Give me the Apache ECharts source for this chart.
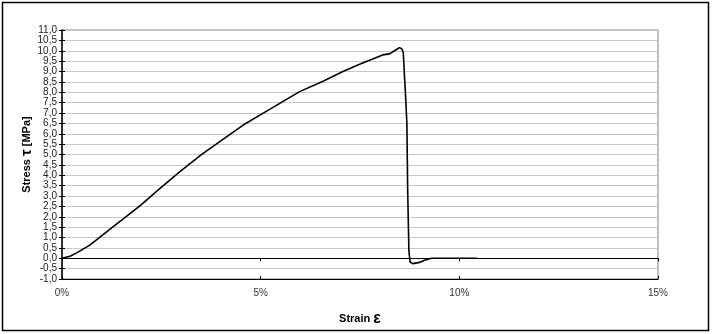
<!DOCTYPE html>
<html><head><meta charset="utf-8">
<script src="https://cdn.jsdelivr.net/npm/echarts@6/dist/echarts.min.js"></script>
<style>html,body{margin:0;padding:0;background:#fff}#c{width:713px;height:334px}</style>
</head><body><div id="c"></div>
<script>
const strain = [0, 0.2, 0.37, 0.70, 1.21, 1.96, 2.46, 2.96, 3.5, 3.97, 4.56, 5.14, 5.98, 6.57, 7.07, 7.49, 8.07, 8.24, 8.37, 8.49, 8.55, 8.59, 8.62, 8.64, 8.68, 8.70, 8.73, 8.76, 8.83, 9.0, 9.12, 9.3, 10.45];
const stress = [0, 0.1, 0.26, 0.63, 1.40, 2.52, 3.36, 4.16, 4.98, 5.62, 6.42, 7.08, 8.03, 8.53, 9.0, 9.35, 9.8, 9.85, 10.0, 10.15, 10.1, 9.9, 8.75, 8.1, 6.5, 3.28, 0.39, -0.18, -0.26, -0.2, -0.1, 0, 0];
const xTicks = [0, 5, 10, 15];
const yMin = -1, yMax = 11, yStep = 0.5;

const chart = echarts.init(document.getElementById('c'));
const font = 'Liberation Sans, Arial, sans-serif';
const data = strain.map((s, i) => [s, stress[i]]);
chart.setOption({
  animation: false,
  grid: {left: 62, right: 55, top: 30, bottom: 55, show: true, borderColor: '#808080', borderWidth: 1},
  graphic: [{type: 'rect', shape: {x: 2.5, y: 2.5, width: 706, height: 328}, style: {fill: 'none', stroke: '#000', lineWidth: 1.5}, silent: true}],
  xAxis: [
    {type: 'value', min: xTicks[0], max: xTicks[xTicks.length - 1], interval: 5, position: 'bottom',
     axisLine: {show: false}, axisTick: {show: false}, splitLine: {show: false},
     axisLabel: {formatter: '{value}%', fontFamily: font, fontSize: 10, color: '#333', margin: 9},
     name: 'Strain {e|ε}', nameLocation: 'middle', nameGap: 32,
     nameTextStyle: {fontFamily: font, fontSize: 11, fontWeight: 'bold', color: '#000',
       rich: {e: {fontSize: 16, fontWeight: 'bold', fontFamily: font, color: '#000'}}}},
    {type: 'value', min: xTicks[0], max: xTicks[xTicks.length - 1], interval: 5, position: 'bottom',
     axisLine: {show: true, onZero: true, lineStyle: {color: '#000', width: 1}},
     axisTick: {show: true, inside: false, length: 3, lineStyle: {color: '#000'}}, axisLabel: {show: false}, splitLine: {show: false}},
    {type: 'value', min: xTicks[0], max: xTicks[xTicks.length - 1], interval: 5, position: 'bottom',
     axisLine: {show: true, onZero: true, lineStyle: {color: '#000', width: 1}},
     axisTick: {show: true, inside: true, length: 3, lineStyle: {color: '#000'}}, axisLabel: {show: false}, splitLine: {show: false}}
  ],
  yAxis: [
    {type: 'value', min: yMin, max: yMax, interval: yStep,
     axisLine: {show: true, onZero: false, lineStyle: {color: '#000', width: 1.5}},
     axisTick: {show: true, inside: false, length: 3, lineStyle: {color: '#000'}},
     splitLine: {show: true, lineStyle: {color: '#c8c8c8', width: 1}},
     axisLabel: {formatter: v => v.toFixed(1).replace('.', ','), fontFamily: font, fontSize: 10, color: '#222', margin: 5},
     name: 'Stress {t|τ} [MPa]', nameLocation: 'middle', nameGap: 28, nameRotate: 90, nameMoveOverlap: false,
     nameTextStyle: {fontFamily: font, fontSize: 11, fontWeight: 'bold', color: '#000',
       rich: {t: {fontSize: 15, fontWeight: 'bold', fontFamily: font, color: '#000'}}}},
    {type: 'value', min: yMin, max: yMax, interval: yStep, position: 'left',
     axisLine: {show: false, onZero: false}, axisTick: {show: true, inside: true, length: 3, lineStyle: {color: '#000'}},
     splitLine: {show: false}, axisLabel: {show: false}}
  ],
  series: [{type: 'line', data: data, xAxisIndex: 0, yAxisIndex: 0, showSymbol: false, symbol: 'none',
    lineStyle: {color: '#000', width: 1.6}, z: 5}]
});
</script></body></html>
